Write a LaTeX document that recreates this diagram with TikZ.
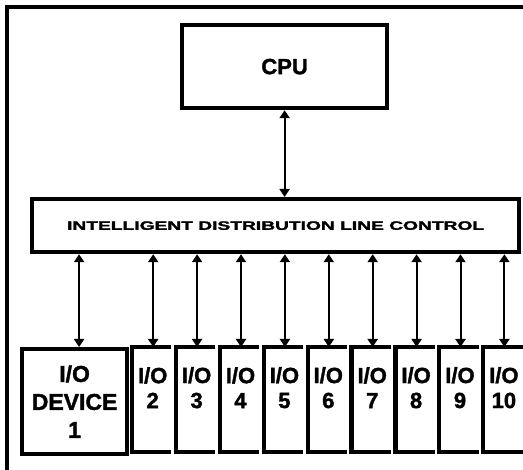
\documentclass[tikz,border=0pt]{standalone}
\usepackage{fontspec}
\setmainfont{Liberation Sans}[BoldFeatures={FakeBold=1.6}]
\usetikzlibrary{arrows.meta}
\begin{document}
\begin{tikzpicture}[x=1pt,y=-1pt,
  box/.style={draw, line width=4.2pt, inner sep=0pt, anchor=north west},
  slot/.style={inner sep=0pt, anchor=north west, minimum width=39pt, minimum height=105pt},
  bracket/.style={line width=4.2pt},
  frame/.style={line width=3.2pt},
  link/.style={line width=2pt, {Triangle[width=10pt,length=8pt]}-{Triangle[width=10pt,length=8pt]}},
  lbl/.style={font=\fontsize{22}{25}\selectfont\bfseries, align=center, inner sep=0pt},
]
\useasboundingbox (0,0) rectangle (523,470);
\draw[frame] (7,470) -- (7,7) -- (523,7);

\node[box, minimum width=205pt, minimum height=83pt, font=\fontsize{22}{24}\selectfont\bfseries] (cpu) at (180,23) {CPU};
\node[box, minimum width=487pt, minimum height=53pt] (idlc) at (30,197)
  {\resizebox{417pt}{8.5pt}{\bfseries INTELLIGENT DISTRIBUTION LINE CONTROL}};
\draw[link] (cpu.south) -- (cpu.south |- idlc.north);

\node[box, minimum width=105pt, minimum height=105pt, lbl, font=\fontsize{23}{28}\selectfont\bfseries] (io1) at (20,347) {I/O\\DEVICE\\1};
\coordinate (t1) at ([xshift=4.5pt]io1.north);
\draw[link] (t1) -- (idlc.south -| t1);

\foreach \i in {2,...,10}{
  \pgfmathsetmacro{\xx}{132+43.9*(\i-2)}
  \node[slot] (io\i) at (\xx,347) {};
  \draw[bracket] (io\i.north east) -- (io\i.north west) -- (io\i.south west) -- (io\i.south east);
  \node[lbl] (l\i) at ([xshift=1pt,yshift=12pt]io\i.center) {I/O\\\i};
  \coordinate (t\i) at ([xshift=1.5pt]io\i.north);
  \draw[link] (t\i) -- (idlc.south -| t\i);
}
\end{tikzpicture}
\end{document}
